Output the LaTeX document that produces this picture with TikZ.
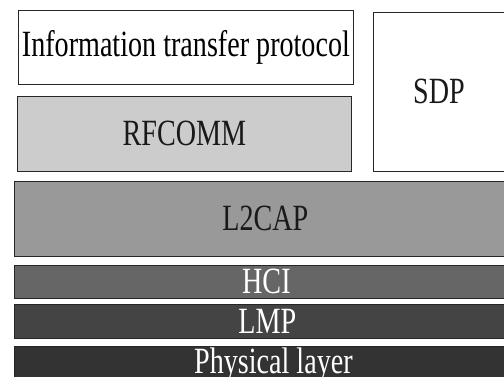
\documentclass[tikz,border=0pt]{standalone}
\usepackage{fontspec}
\newfontfamily\lfont{Liberation Serif}[FakeStretch=0.76]
\definecolor{cRF}{HTML}{CCCCCC}
\definecolor{cL2}{HTML}{999999}
\definecolor{cHCI}{HTML}{666666}
\definecolor{cLMP}{HTML}{444444}
\definecolor{cPHY}{HTML}{333333}
\begin{document}
\begin{tikzpicture}[x=1bp,y=1bp,
  layer/.style={draw=black!85, line width=0.8bp, rectangle, inner sep=0pt, anchor=north west,
    font=\lfont\fontsize{37bp}{40bp}\selectfont}]
\useasboundingbox (0,0) rectangle (504,376);
\clip (0,0) rectangle (504,376);
\node[layer, fill=white, text=black, minimum width=335bp, minimum height=74bp] (info) at (18,366) {Information transfer protocol};
\node[layer, fill=cRF, text=black!90, minimum width=334bp, minimum height=75bp] (rfcomm) at (17,280) {RFCOMM};
\node[layer, fill=white, text=black!90, minimum width=131bp, minimum height=159bp] (sdp) at (373,364) {SDP};
\node[layer, fill=cL2, text=black!90, minimum width=502bp, minimum height=75bp] (l2cap) at (14,195) {L2CAP};
\node[layer, fill=cHCI, text=white, minimum width=504bp, minimum height=33bp] (hci) at (14,111) {HCI};
\node[layer, fill=cLMP, text=white, minimum width=506bp, minimum height=34bp] (lmp) at (14,72) {LMP};
\node[layer, fill=cPHY, text=white, minimum width=518bp, minimum height=36bp] (phy) at (14,30) {Physical layer};
\end{tikzpicture}
\end{document}
